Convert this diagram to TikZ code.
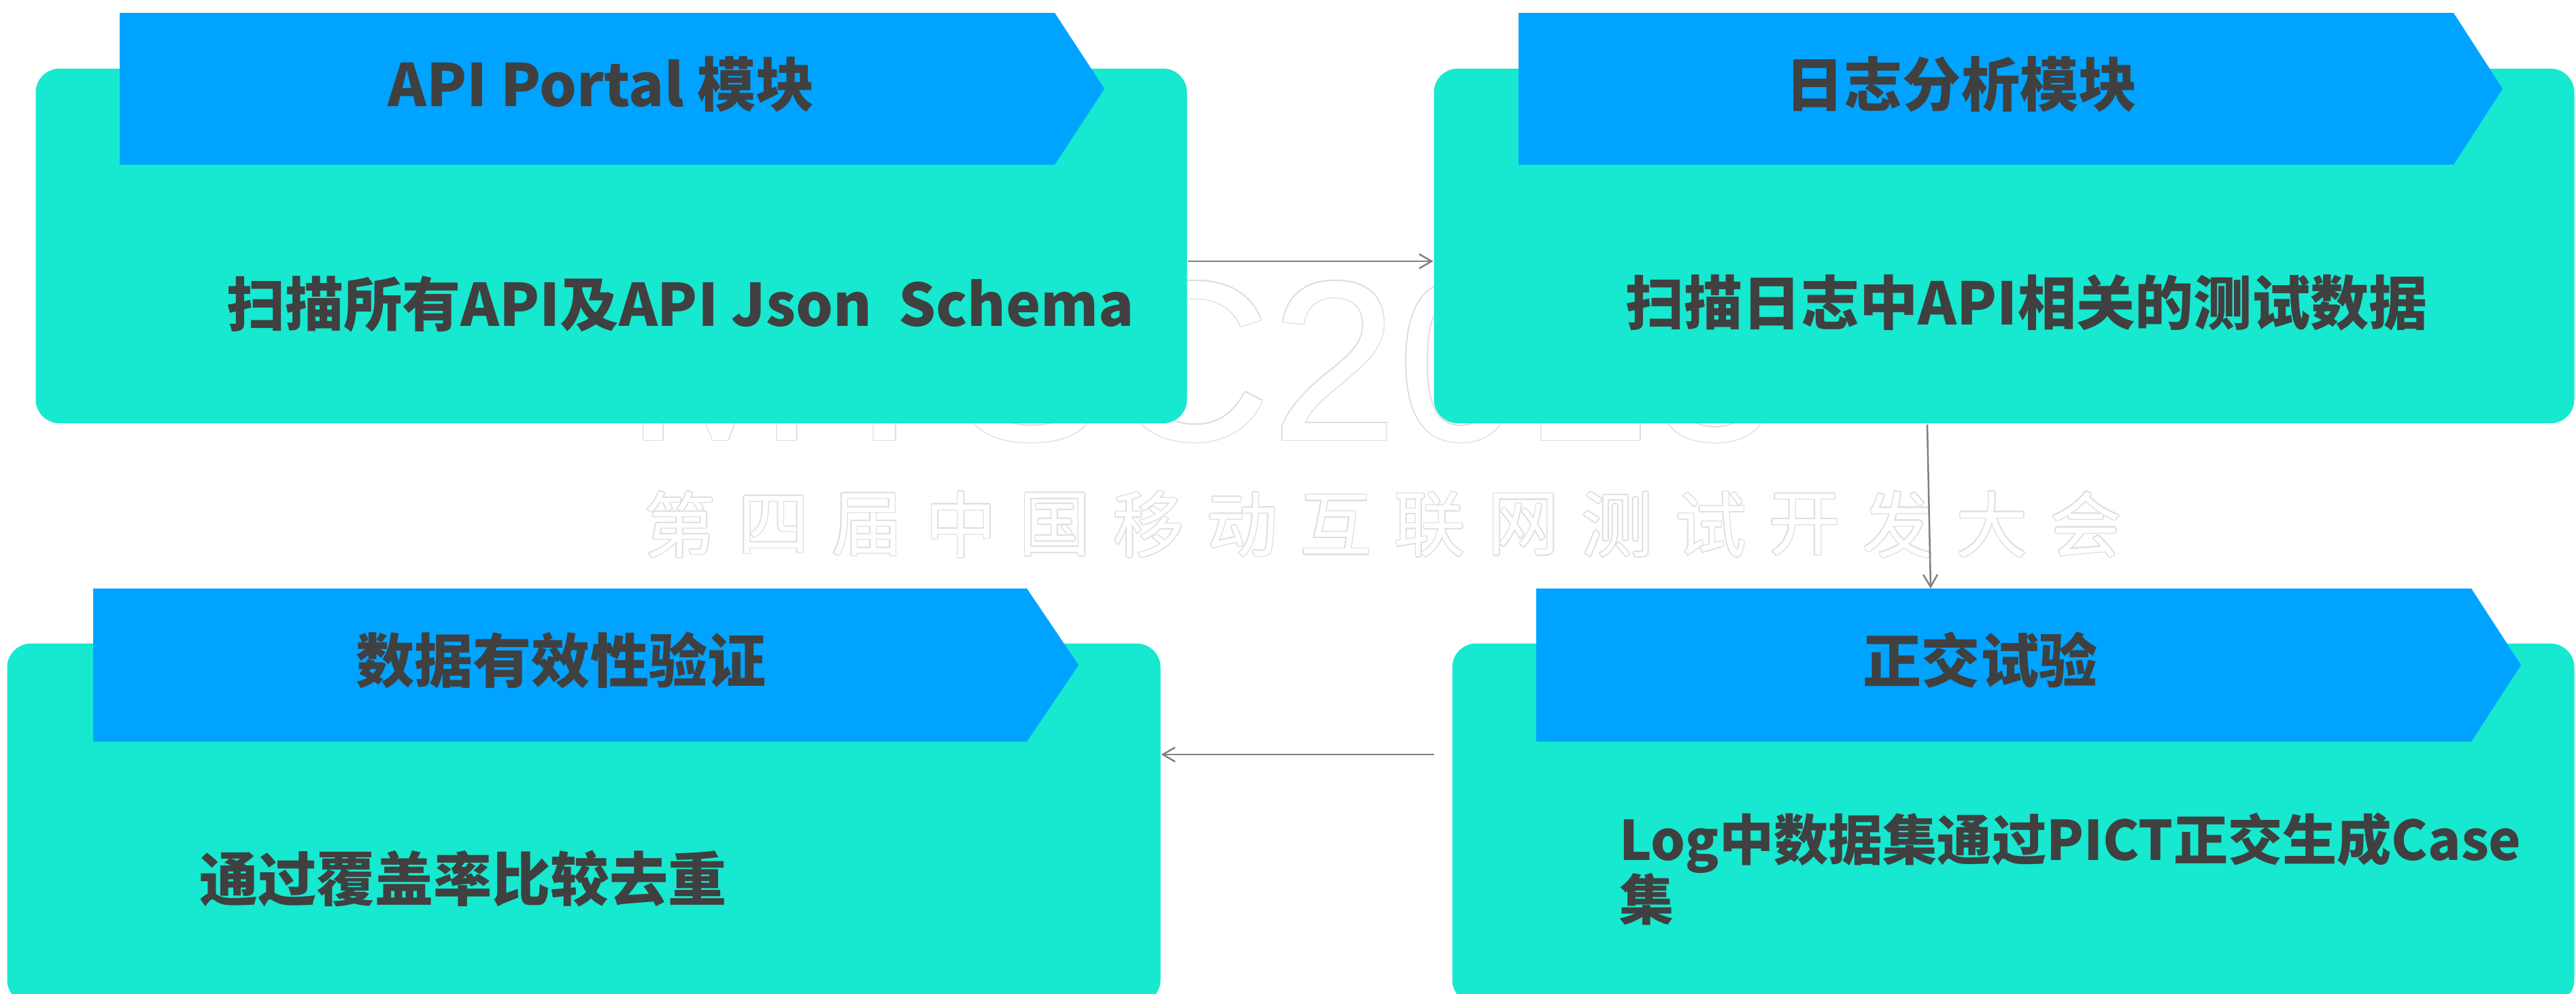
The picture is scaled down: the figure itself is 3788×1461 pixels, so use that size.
\documentclass[tikz,border=0pt]{standalone}
\usepackage{fontspec}
\newfontfamily\cjk{Noto Sans CJK SC}
\newfontfamily\wmlat{Liberation Sans}
\usetikzlibrary{arrows.meta,calc}
\definecolor{tealbg}{HTML}{17E8D0}
\definecolor{bluebar}{HTML}{00A3FF}
\definecolor{txtgray}{HTML}{404040}
\definecolor{arrowgray}{HTML}{808080}
\definecolor{wmgray}{HTML}{DEDEDE}
\newcommand\wmnode[4]{% name, x, y, text ; style wmstyle must be active
  \foreach \dx/\dy in {-1.6/0,1.6/0,0/-1.6,0/1.6,-1.1/-1.1,1.1/1.1,-1.1/1.1,1.1/-1.1}
    \node[text=wmgray] at ($(#2,#3)+(\dx,\dy)$) {#4};
  \node[text=white] (#1) at (#2,#3) {#4};
}
\begin{document}
\begin{tikzpicture}[x=0.01cm,y=-0.01cm,
  tealbox/.style={fill=tealbg, draw=none, rounded corners=0.35cm, inner sep=0pt, outer sep=0pt},
  ttl/.style={font=\cjk\bfseries\fontsize{24.5}{25}\selectfont, text=txtgray, inner sep=0pt, outer sep=0pt},
  smalldesc/.style={font={\cjk\bfseries\fontsize{22.8}{25}\selectfont\lineskiplimit=-30pt}, text=txtgray, inner sep=0pt, outer sep=0pt},
  arr/.style={draw=arrowgray, line width=0.025cm, -{Straight Barb[length=0.18cm,width=0.21cm]}},
  wmbig/.style={font=\wmlat\fontsize{95.3}{96}\selectfont, inner sep=0pt, anchor=base west},
  wmsmall/.style={font=\cjk\fontsize{29.9}{30}\selectfont, inner sep=0pt, anchor=center}
]
\useasboundingbox (0,0) rectangle (3788,1461);
\clip (0,0) rectangle (3788,1461);
\fill[white] (0,0) rectangle (3788,1461);

% watermark
\begin{scope}[every node/.style={wmbig}]
  \wmnode{wmA}{919}{647}{MTSC2018}
\end{scope}
\begin{scope}[every node/.style={wmsmall}]
  \foreach \ch [count=\i from 0] in {第,四,届,中,国,移,动,互,联,网,测,试,开,发,大,会}{
    \wmnode{wmc\i}{1000+\i*137.8}{771}{\ch}
  }
\end{scope}

% teal boxes
\node[tealbox, minimum width=16.92cm, minimum height=5.21cm] (tl) at (899,361.5) {};
\node[tealbox, minimum width=16.76cm, minimum height=5.21cm] (tr) at (2947,361.5) {};
\node[tealbox, minimum width=16.95cm, minimum height=5.29cm] (bl) at (858.5,1210.5) {};
\node[tealbox, minimum width=16.49cm, minimum height=5.29cm] (br) at (2960.5,1210.5) {};

% blue chevrons
\fill[bluebar] (176,19) -- (1551,19) -- (1624,130.5) -- (1551,242) -- (176,242) -- cycle;
\fill[bluebar] (2233,19) -- (3608,19) -- (3680,130.5) -- (3608,242) -- (2233,242) -- cycle;
\fill[bluebar] (137,865) -- (1510,865) -- (1586,977.5) -- (1510,1090) -- (137,1090) -- cycle;
\fill[bluebar] (2259,865) -- (3634,865) -- (3707,977.5) -- (3634,1090) -- (2259,1090) -- cycle;
\coordinate (brtop) at (2839,865);

% titles
\node[ttl] (t1) at (884,124) {API Portal 模块};
\node[ttl] (t2) at (2884,124) {日志分析模块};
\node[ttl] (t3) at (825,970) {数据有效性验证};
\node[ttl] (t4) at (2912,970) {正交试验};

% descriptions
\node[ttl, anchor=west] (d1) at (333,447) {扫描所有API及API Json~~Schema};
\node[ttl, anchor=west] (d2) at (2390,445) {扫描日志中API相关的测试数据};
\node[ttl, anchor=west] (d3) at (293,1291) {通过覆盖率比较去重};
\node[smalldesc, anchor=north west, align=left] (d4) at (2381,1195) {Log中数据集通过PICT正交生成Case\\集};

% connectors
\draw[arr] ($(tl.east)+(1,22.5)$) -- ($(tr.west)+(-1,22.5)$);
\draw[arr] ($(tr.south)+(-113,2)$) -- (brtop);
\draw[arr] ($(br.west)+(-27,-101.5)$) -- ($(bl.east)+(1,-101.5)$);
\end{tikzpicture}
\end{document}
